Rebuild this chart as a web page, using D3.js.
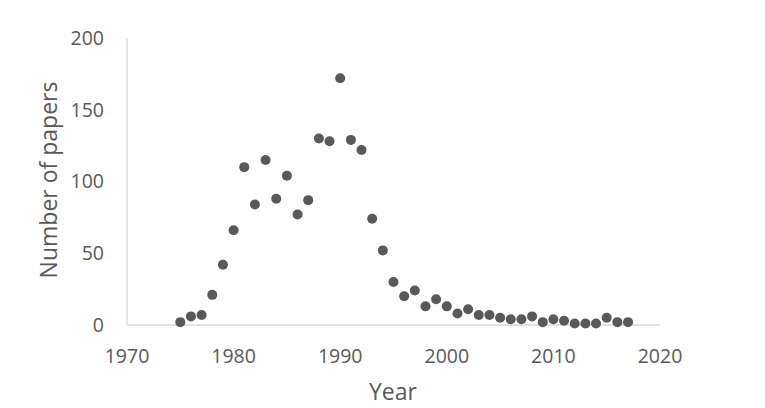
<!DOCTYPE html>
<html><head><meta charset="utf-8">
<script src="https://cdn.jsdelivr.net/npm/d3@7"></script>
<style>body{margin:0;background:#fff}svg{display:block}</style>
</head><body>
<svg id="c" width="765" height="408"></svg>
<script>
const years = [1975,1976,1977,1978,1979,1980,1981,1982,1983,1984,1985,1986,1987,1988,1989,1990,1991,1992,1993,1994,1995,1996,1997,1998,1999,2000,2001,2002,2003,2004,2005,2006,2007,2008,2009,2010,2011,2012,2013,2014,2015,2016,2017];
const papers = [2,6,7,21,42,66,110,84,115,88,104,77,87,130,128,172,129,122,74,52,30,20,24,13,18,13,8,11,7,7,5,4,4,6,2,4,3,1,1,1,5,2,2];
const xTicks = [1970,1980,1990,2000,2010,2020];
const yTicks = [0,50,100,150,200];

const svg = d3.select("#c");
const x = d3.scaleLinear().domain([1970,2020]).range([127,660]);
const y = d3.scaleLinear().domain([0,200]).range([325,38]);
const font = "'Open Sans', sans-serif";
const grey = "#595959";

svg.append("line").attr("x1",x(1970)).attr("x2",x(1970)).attr("y1",y(0)).attr("y2",y(200)).attr("stroke","#d9d9d9").attr("stroke-width",1.3);
svg.append("line").attr("x1",x(1970)).attr("x2",x(2020)).attr("y1",y(0)).attr("y2",y(0)).attr("stroke","#d9d9d9").attr("stroke-width",1.3);

svg.selectAll(".yt").data(yTicks).enter().append("text")
  .attr("x",104).attr("y",d=>y(d)).attr("dy","0.35em").attr("text-anchor","end")
  .attr("font-family",font).attr("font-size",19.5).attr("fill",grey).text(d=>d);
svg.selectAll(".xt").data(xTicks).enter().append("text")
  .attr("x",d=>x(d)).attr("y",356).attr("dy","0.35em").attr("text-anchor","middle")
  .attr("font-family",font).attr("font-size",19.5).attr("fill",grey).text(d=>d);

svg.append("text").attr("transform","translate(49,180) rotate(-90)").attr("dy","0.35em")
  .attr("text-anchor","middle").attr("font-family",font).attr("font-size",23).attr("fill",grey).text("Number of papers");
svg.append("text").attr("x",393).attr("y",392).attr("dy","0.35em")
  .attr("text-anchor","middle").attr("font-family",font).attr("font-size",23).attr("fill",grey).text("Year");

svg.selectAll("circle").data(years).enter().append("circle")
  .attr("cx",d=>x(d)).attr("cy",(d,i)=>y(papers[i])).attr("r",5).attr("fill",grey);
</script>
</body></html>
